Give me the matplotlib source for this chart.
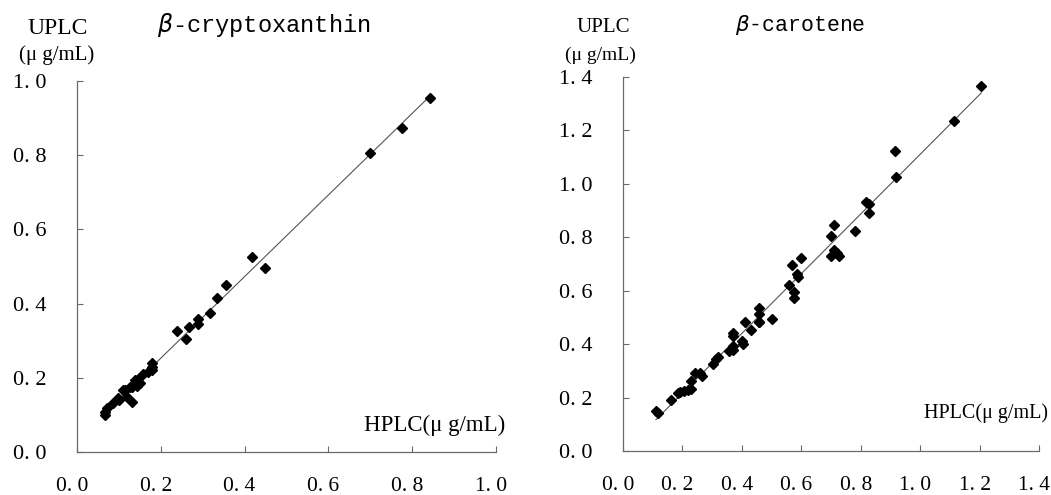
import matplotlib
matplotlib.use("Agg")
import matplotlib.pyplot as plt
import matplotlib.transforms as mtransforms
import numpy as np

# beta-cryptoxanthin: HPLC (x) vs UPLC (y), ug/mL
crypto_hplc = [0.067, 0.068, 0.071, 0.086, 0.098, 0.10, 0.11, 0.115, 0.119, 0.126,
               0.131, 0.131, 0.138, 0.143, 0.146, 0.15, 0.158, 0.17, 0.179, 0.179,
               0.18, 0.238, 0.26, 0.267, 0.289, 0.289, 0.317, 0.334, 0.355, 0.418,
               0.449, 0.70, 0.776, 0.842]
crypto_uplc = [0.099, 0.107, 0.118, 0.131, 0.145, 0.139, 0.168, 0.166, 0.148, 0.174,
               0.134, 0.175, 0.193, 0.179, 0.198, 0.187, 0.209, 0.215, 0.228, 0.239,
               0.22, 0.327, 0.305, 0.337, 0.345, 0.359, 0.375, 0.415, 0.45, 0.525,
               0.495, 0.806, 0.873, 0.955]

# beta-carotene
carot_hplc = [0.111, 0.118, 0.162, 0.185, 0.192, 0.205, 0.219, 0.229, 0.229, 0.242,
              0.259, 0.266, 0.303, 0.313, 0.32, 0.357, 0.37, 0.37, 0.37, 0.37,
              0.40, 0.404, 0.411, 0.431, 0.458, 0.458, 0.458, 0.458, 0.502, 0.559,
              0.569, 0.576, 0.576, 0.586, 0.589, 0.599, 0.70, 0.70, 0.71, 0.71,
              0.72, 0.727, 0.781, 0.818, 0.828, 0.828, 0.916, 0.919, 1.114, 1.206]
carot_uplc = [0.150, 0.142, 0.191, 0.217, 0.221, 0.225, 0.228, 0.232, 0.262, 0.292,
              0.292, 0.281, 0.326, 0.345, 0.352, 0.375, 0.378, 0.393, 0.431, 0.442,
              0.412, 0.40, 0.483, 0.453, 0.536, 0.513, 0.483, 0.483, 0.494, 0.622,
              0.697, 0.596, 0.573, 0.663, 0.652, 0.723, 0.805, 0.73, 0.846, 0.753,
              0.742, 0.73, 0.824, 0.933, 0.925, 0.891, 1.124, 1.026, 1.236, 1.367]

crypto_ticks = [0.0, 0.2, 0.4, 0.6, 0.8, 1.0]
crypto_labels = ["0. 0", "0. 2", "0. 4", "0. 6", "0. 8", "1. 0"]
carot_ticks = [0.0, 0.2, 0.4, 0.6, 0.8, 1.0, 1.2, 1.4]
carot_labels = ["0. 0", "0. 2", "0. 4", "0. 6", "0. 8", "1. 0", "1. 2", "1. 4"]

W, H = 1051, 495
fig = plt.figure(figsize=(W / 100, H / 100), dpi=100)

serif = "Liberation Serif"
mono = "Liberation Mono"
axcol = "#6a6a6a"


def px(x, y):
    return x / W, 1 - y / H


def panel(rect, xs, ys, ticks, labels):
    ax = fig.add_axes(rect)
    ax.plot(xs, ys, linestyle="none", marker="D", markersize=5.2,
            color="black", zorder=3)
    # regression line
    k, b = np.polyfit(xs, ys, 1)
    xl = np.array([min(xs), max(xs)])
    ax.plot(xl, k * xl + b, color="#555555", linewidth=0.8, zorder=2)
    ax.set_xlim(0, ticks[-1])
    ax.set_ylim(0, ticks[-1])
    ax.set_xticks(ticks)
    ax.set_yticks(ticks)
    ax.set_xticklabels(labels, fontfamily=serif, fontsize=15.5)
    ax.set_yticklabels(labels, fontfamily=serif, fontsize=16)
    for s in ["top", "right"]:
        ax.spines[s].set_visible(False)
    for s in ["left", "bottom"]:
        ax.spines[s].set_color(axcol)
        ax.spines[s].set_linewidth(0.9)
    ax.tick_params(axis="both", direction="in", length=4, width=0.8,
                   color=axcol)
    ax.tick_params(axis="x", pad=18)
    ax.tick_params(axis="y", pad=22)
    # labels sit a little left of their ticks in the original
    shift = mtransforms.ScaledTranslation(-5 / 100, 0, fig.dpi_scale_trans)
    for lab in ax.get_xticklabels():
        lab.set_transform(lab.get_transform() + shift)
    ax.patch.set_alpha(0)
    return ax


x0, y1 = px(77, 81)
x1, y0 = px(496, 452)
ax1 = panel([x0, y0, x1 - x0, y1 - y0], crypto_hplc, crypto_uplc,
            crypto_ticks, crypto_labels)

x0, y1 = px(623, 77)
x1, y0 = px(1039, 451)
ax2 = panel([x0, y0, x1 - x0, y1 - y0], carot_hplc, carot_uplc,
            carot_ticks, carot_labels)

# left panel texts
fig.text(*px(58, 28), "UPLC", fontfamily=serif, fontsize=17,
         ha="center", va="center")
fig.text(*px(57, 55), "(μ g/mL)", fontfamily=serif, fontsize=15,
         ha="center", va="center")
fig.text(*px(157, 25), r"$\beta$-cryptoxanthin", fontfamily=mono,
         fontsize=17, ha="left", va="center")
fig.text(*px(505, 425), "HPLC(μ g/mL)", fontfamily=serif, fontsize=16.5,
         ha="right", va="center")

# right panel texts
fig.text(*px(603, 27), "UPLC", fontfamily=serif, fontsize=15,
         ha="center", va="center")
fig.text(*px(600, 55), "(μ g/mL)", fontfamily=serif, fontsize=14,
         ha="center", va="center")
fig.text(*px(735, 25), r"$\beta$-carotene", fontfamily=mono,
         fontsize=15.5, ha="left", va="center")
fig.text(*px(1048, 413), "HPLC(μ g/mL)", fontfamily=serif, fontsize=14.5,
         ha="right", va="center")

fig.savefig("out.png", dpi=100)
